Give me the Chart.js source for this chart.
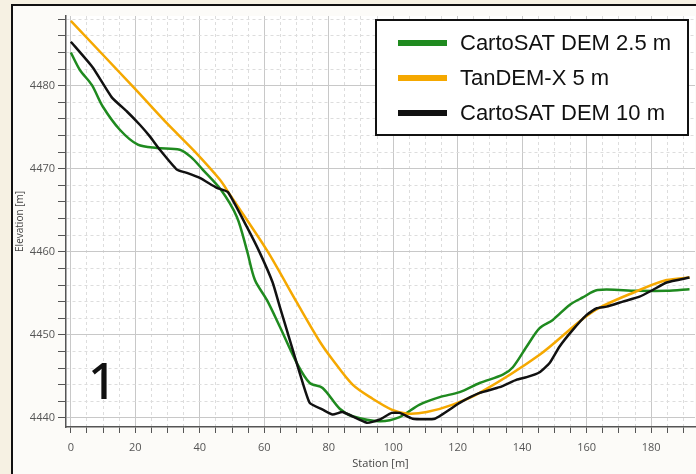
<!DOCTYPE html>
<html>
<head>
<meta charset="utf-8">
<script src="https://cdn.jsdelivr.net/npm/chart.js@4.4.0/dist/chart.umd.min.js"></script>
<style>
    body { margin: 0; background: #f6f1e3; width: 696px; height: 474px; overflow: hidden; }
    #frame { position: absolute; left: 11px; top: 4px; width: 700px; height: 480px; border: 2px solid #111; background: #fcfbf8; }
    #wrap { position: absolute; left: 0; top: 0; width: 696px; height: 474px; }
</style>
</head>
<body>
<div id="frame"></div>
<div id="wrap"><canvas id="profileChart" width="696" height="474"></canvas></div>
<script>
// CartoSAT DEM 2.5 m
const greenStation = [0, 2.8, 6.5, 9.9, 15.2, 20.8, 26.7, 33.8, 37.3, 40.9, 46.5, 51.5, 54.6, 57.1, 60.8, 64.8, 70.1, 74.1, 78.1, 83.4, 87.4, 95.8, 102, 108.2, 114.4, 120.6, 126.8, 134, 137.1, 141.4, 145.4, 149.5, 154.7, 158.8, 163.4, 175.5, 184.8, 191.9];
const greenElev = [4484.0, 4481.9, 4480.1, 4477.5, 4474.7, 4472.9, 4472.5, 4472.3, 4471.4, 4469.9, 4467.5, 4464.2, 4460.2, 4456.6, 4454.2, 4451.0, 4446.6, 4444.2, 4443.6, 4441.1, 4440.2, 4439.6, 4440.1, 4441.6, 4442.5, 4443.1, 4444.2, 4445.2, 4446.1, 4448.6, 4450.8, 4451.8, 4453.6, 4454.5, 4455.4, 4455.3, 4455.3, 4455.5];

// TanDEM-X 5 m
const orangeStation = [0, 20, 30, 38.4, 46.2, 49.3, 60.8, 70.1, 77.2, 81.2, 87.4, 93.6, 99.5, 104.5, 110.4, 118.5, 126.8, 145.4, 161.9, 176.4, 184.8, 191.9];
const orangeElev = [4487.8, 4479.6, 4475.4, 4472.1, 4468.7, 4466.9, 4460.2, 4453.9, 4449.2, 4447.0, 4444.0, 4442.3, 4441.0, 4440.5, 4440.7, 4441.6, 4443.0, 4447.6, 4452.8, 4455.4, 4456.6, 4456.9];

// CartoSAT DEM 10 m
const blackStation = [0, 6.8, 12.7, 17.4, 21.4, 24.5, 27.6, 32.9, 36.0, 40.0, 45.3, 48.7, 54.6, 58.6, 62.6, 64.8, 67.9, 71.0, 74.1, 78.1, 81.2, 84.3, 91.8, 95.8, 99.5, 102, 106, 112.9, 120.6, 126.8, 133, 138.3, 141.4, 145.4, 148.5, 151.6, 155.7, 160, 163.1, 166.2, 171.2, 176.4, 180.5, 184.8, 191.9];
const blackElev = [4485.3, 4482.2, 4478.6, 4476.9, 4475.3, 4473.9, 4472.3, 4469.9, 4469.5, 4468.9, 4467.7, 4467.2, 4463.0, 4459.9, 4456.3, 4453.4, 4449.4, 4445.4, 4441.8, 4441.0, 4440.4, 4440.7, 4439.4, 4439.8, 4440.6, 4440.6, 4439.9, 4439.9, 4441.8, 4443.0, 4443.7, 4444.6, 4444.9, 4445.5, 4446.6, 4448.6, 4450.6, 4452.4, 4453.2, 4453.4, 4454.0, 4454.6, 4455.4, 4456.3, 4456.9];

const seriesNames = ['CartoSAT DEM 2.5 m', 'TanDEM-X 5 m', 'CartoSAT DEM 10 m'];
const seriesColors = ['#1f8a1f', '#f5a800', '#111111'];

const xMajor = 20;   // labelled x ticks
const yMajor = 10;   // labelled y ticks

function toPoints(xs, ys) {
    return xs.map(function (x, i) { return { x: x, y: ys[i] }; });
}

// white plot area
const plotBackground = {
    id: 'plotBackground',
    beforeDraw(chart) {
        const a = chart.chartArea;
        chart.ctx.save();
        chart.ctx.fillStyle = '#ffffff';
        chart.ctx.fillRect(a.left, a.top, a.right - a.left, a.bottom - a.top);
        chart.ctx.restore();
    }
};

// boxed legend in the top right corner + the panel number
const boxLegend = {
    id: 'boxLegend',
    afterDraw(chart) {
        const ctx = chart.ctx;
        const rows = [43, 78, 113];
        ctx.save();
        ctx.fillStyle = '#ffffff';
        ctx.fillRect(376, 20, 312, 115);
        ctx.lineWidth = 2;
        ctx.strokeStyle = '#111';
        ctx.strokeRect(376, 20, 312, 115);
        chart.data.datasets.forEach(function (ds, i) {
            ctx.lineWidth = 6;
            ctx.strokeStyle = ds.borderColor;
            ctx.beginPath();
            ctx.moveTo(398, rows[i]);
            ctx.lineTo(447, rows[i]);
            ctx.stroke();
            ctx.fillStyle = '#111';
            ctx.font = '22px "Liberation Sans", Arial, sans-serif';
            ctx.textBaseline = 'middle';
            ctx.fillText(ds.label, 460, rows[i] + 1);
        });
        ctx.font = '500 50px "Noto Sans", sans-serif';
        ctx.textBaseline = 'alphabetic';
        ctx.fillText('1', 88, 399);
        ctx.restore();
    }
};

const tickFont = { family: 'Open Sans', size: 11 };

const config = {
    type: 'line',
    data: {
        datasets: [
            { label: seriesNames[0], data: toPoints(greenStation, greenElev), borderColor: seriesColors[0], tension: 0.3, order: 3 },
            { label: seriesNames[1], data: toPoints(orangeStation, orangeElev), borderColor: seriesColors[1], tension: 0.3, order: 2 },
            { label: seriesNames[2], data: toPoints(blackStation, blackElev), borderColor: seriesColors[2], tension: 0.15, order: 1 }
        ]
    },
    options: {
        responsive: false,
        animation: false,
        datasets: { line: { borderWidth: 2.5, pointRadius: 0, fill: false } },
        layout: { padding: { left: 12, top: 16, right: 1, bottom: 0 } },
        plugins: { legend: { display: false }, tooltip: { enabled: false } },
        scales: {
            x: {
                type: 'linear',
                min: -1.5,
                max: 193.6,
                afterFit: function (scale) { scale.height = 47; },
                ticks: {
                    stepSize: 5,
                    includeBounds: false,
                    autoSkip: false,
                    maxRotation: 0,
                    padding: 8,
                    color: '#555',
                    font: tickFont,
                    callback: function (v) { return v % xMajor === 0 ? v : ''; }
                },
                grid: {
                    color: function (c) { return c.tick && c.tick.value % xMajor === 0 ? '#c8c8c8' : '#dddddd'; },
                    tickColor: '#555',
                    tickLength: 6,
                    tickBorderDash: []
                },
                border: {
                    color: '#555',
                    width: 1.5,
                    dash: function (c) { return c.tick && c.tick.value % xMajor !== 0 ? [3, 3] : []; }
                },
                title: { display: true, text: 'Station [m]', color: '#444', font: { family: 'Open Sans', size: 11 }, padding: { top: 2, bottom: 4 } }
            },
            y: {
                type: 'linear',
                min: 4438.9,
                max: 4488.4,
                afterFit: function (scale) { scale.width = 54; },
                ticks: {
                    stepSize: 2,
                    includeBounds: false,
                    autoSkip: false,
                    padding: 3,
                    color: '#555',
                    font: tickFont,
                    callback: function (v) { return v % yMajor === 0 ? v : ''; }
                },
                grid: {
                    color: function (c) { return c.tick && c.tick.value % yMajor === 0 ? '#c8c8c8' : '#dddddd'; },
                    tickColor: '#555',
                    tickLength: 8,
                    tickBorderDash: []
                },
                border: {
                    color: '#555',
                    width: 1.5,
                    dash: function (c) { return c.tick && c.tick.value % yMajor !== 0 ? [3, 3] : []; }
                },
                title: { display: true, text: 'Elevation [m]', color: '#444', font: { family: 'Open Sans', size: 10 }, padding: { top: 2, bottom: 2 } }
            }
        }
    },
    plugins: [plotBackground, boxLegend]
};

new Chart(document.getElementById('profileChart'), config);
</script>
</body>
</html>
